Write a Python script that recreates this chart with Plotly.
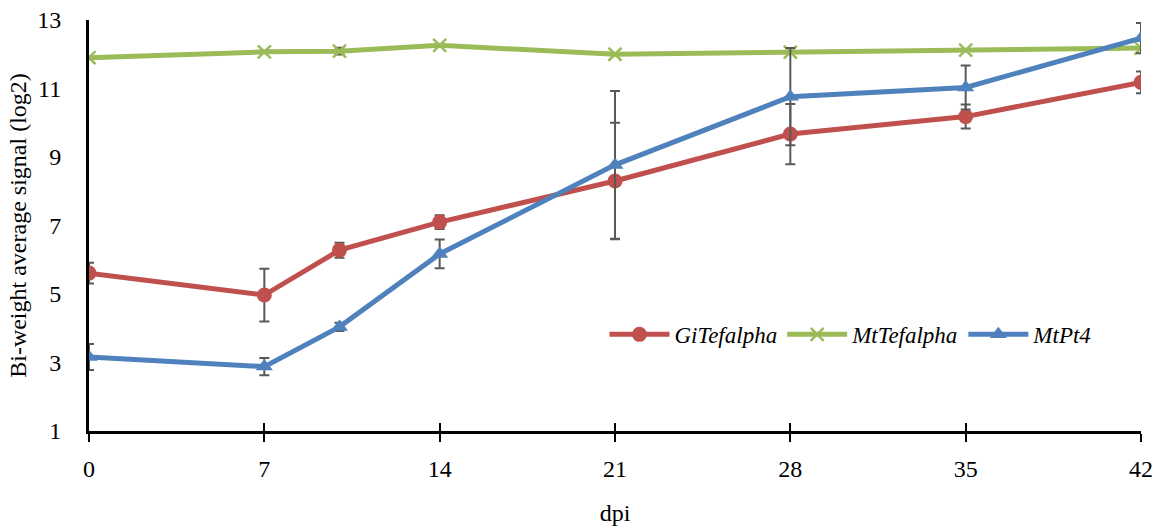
import plotly.graph_objects as go

dpi = [0, 7, 10, 14, 21, 28, 35, 42]

gi_tefalpha = [5.61, 4.97, 6.28, 7.10, 8.30, 9.67, 10.18, 11.18]
gi_tefalpha_err = [0.30, 0.77, 0.22, 0.20, 1.70, 0.88, 0.35, 0.32]

mt_tefalpha = [11.90, 12.07, 12.09, 12.26, 12.00, 12.06, 12.12, 12.18]
mt_tefalpha_err = [0.0, 0.0, 0.10, 0.0, 0.0, 0.0, 0.0, 0.0]

mt_pt4 = [3.16, 2.88, 4.04, 6.17, 8.77, 10.76, 11.03, 12.47]
mt_pt4_err = [0.38, 0.25, 0.12, 0.42, 2.16, 1.42, 0.64, 0.44]

x_ticks = [0, 7, 14, 21, 28, 35, 42]
y_ticks = [1, 3, 5, 7, 9, 11, 13]

err_style = dict(type="data", visible=True, color="#595959", thickness=2, width=5)
font_family = "Liberation Serif, Times New Roman, serif"

fig = go.Figure()
series = [
    ("GiTefalpha", gi_tefalpha, gi_tefalpha_err, "#C0504D", dict(symbol="circle", size=15)),
    ("MtTefalpha", mt_tefalpha, mt_tefalpha_err, "#9BBB59", dict(symbol="x-thin", size=13, line=dict(width=2.5, color="#9BBB59"))),
    ("MtPt4", mt_pt4, mt_pt4_err, "#4F81BD", dict(symbol="triangle-up", size=15)),
]
for name, vals, errs, col, mk in series:
    fig.add_trace(go.Scatter(
        x=dpi, y=vals, name=name, mode="lines+markers",
        line=dict(color=col, width=5),
        marker=dict(color=col, **mk),
        error_y=dict(array=errs, **err_style),
    ))

# invisible trace to carry inner tick marks (cross ticks)
fig.add_trace(go.Scatter(x=[0, 42], y=[1, 1], xaxis="x2", mode="lines",
                         line=dict(width=0), showlegend=False, hoverinfo="skip"))

fig.update_layout(
    width=1161, height=529,
    margin=dict(l=89, r=20, t=20, b=98),
    paper_bgcolor="white", plot_bgcolor="white",
    font=dict(family=font_family, size=24, color="black"),
    xaxis=dict(range=[0, 42], tickvals=x_ticks, ticks="outside", ticklen=8,
               tickwidth=1.5, tickcolor="black", showline=True, linecolor="black",
               linewidth=3, showgrid=False, zeroline=False, automargin=False,
               title=dict(text="dpi", font=dict(size=24), standoff=24),
               tickfont=dict(size=24), ticklabelstandoff=6),
    xaxis2=dict(range=[0, 42], tickvals=x_ticks, ticks="inside", ticklen=8,
                tickwidth=1.5, tickcolor="black", overlaying="x", side="bottom",
                showticklabels=False, showline=False, showgrid=False, zeroline=False,
                automargin=False),
    yaxis=dict(range=[1, 13], tickvals=y_ticks, ticks="", showline=True,
               linecolor="black", linewidth=3, showgrid=False, zeroline=False,
               automargin=False,
               title=dict(text="Bi-weight average signal (log2)", font=dict(size=24), standoff=4),
               tickfont=dict(size=24), ticklabelstandoff=20),
    legend=dict(orientation="h", x=0.49, y=0.235, xanchor="left", yanchor="middle",
                font=dict(size=23, family=font_family, style="italic"),
                bgcolor="rgba(0,0,0,0)", itemwidth=60, tracegroupgap=0),
    showlegend=True,
)

fig.write_html("out.html")
